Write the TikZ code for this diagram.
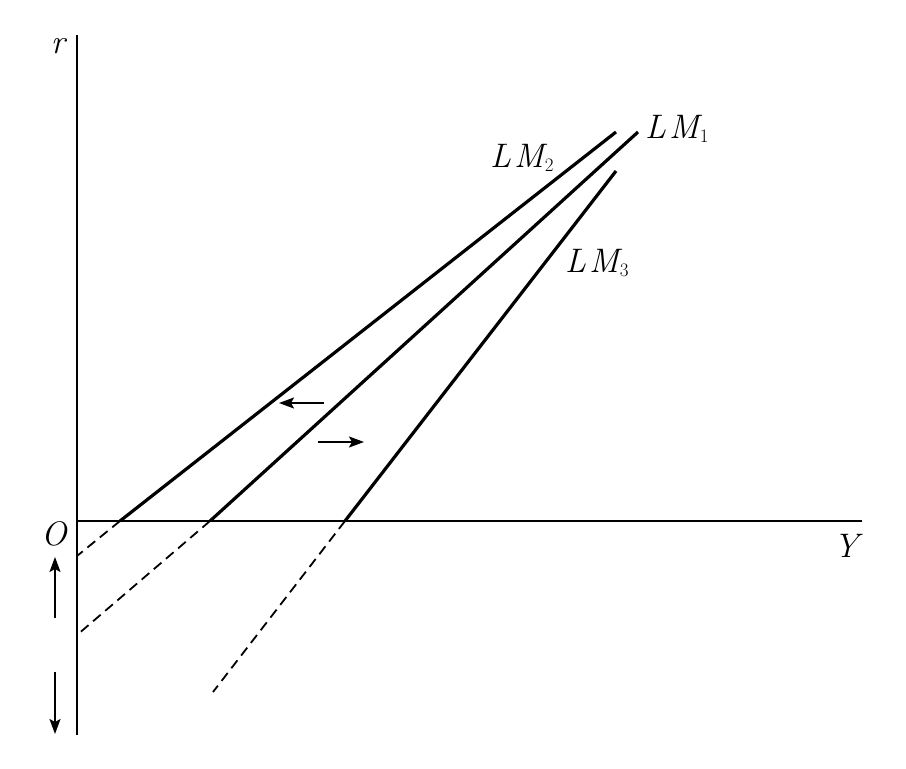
\documentclass[tikz,border=0pt]{standalone}
\usetikzlibrary{arrows.meta}
\newcommand{\lmsub}[1]{\kern1pt\raisebox{-4.5pt}{\fontsize{19}{19}\selectfont\upshape #1}}
\begin{document}
\begin{tikzpicture}[x=1pt,y=-1pt,
  axis/.style={line width=2.2pt},
  lmline/.style={line width=3.2pt},
  ext/.style={line width=1.8pt,dash pattern=on 10pt off 6pt},
  movearrow/.style={line width=1.9pt,-{Stealth[length=15pt,width=11pt,inset=3pt]}},
  lbl/.style={inner sep=0pt,font=\fontsize{34}{38}\selectfont\itshape}]
\useasboundingbox (0,0) rectangle (906,769);
% axes
\coordinate (otop) at (77,35);
\coordinate (obot) at (77,735);
\coordinate (o) at (77,521);
\coordinate (xend) at (862,521);
\draw[axis] (otop) -- (obot);
\draw[axis] (o) -- (xend);
% curve points
\coordinate (a2) at (120,521); \coordinate (t2) at (616,132); \coordinate (d2) at (77,556);
\coordinate (a1) at (210,521); \coordinate (t1) at (638,132); \coordinate (d1) at (77,635);
\coordinate (a3) at (345,521); \coordinate (t3) at (616,171); \coordinate (d3) at (213,692);
\draw[lmline] (a2) -- (t2);
\draw[lmline] (a1) -- (t1);
\draw[lmline] (a3) -- (t3);
\draw[ext] (a2) -- (d2);
\draw[ext] (a1) -- (d1);
\draw[ext] (a3) -- (d3);
% shift arrows
\coordinate (l0) at (324,403); \coordinate (l1) at (279,403);
\coordinate (r0) at (318,442); \coordinate (r1) at (364,442);
\draw[movearrow] (l0) -- (l1);
\draw[movearrow] (r0) -- (r1);
\coordinate (u0) at (55,618); \coordinate (u1) at (55,557);
\coordinate (v0) at (55,672); \coordinate (v1) at (55,734);
\draw[movearrow] (u0) -- (u1);
\draw[movearrow] (v0) -- (v1);
% labels
\node[lbl] (rl) at (58,46) {r};
\node[lbl] (ol) at (54,534) {O};
\node[lbl] (yl) at (846,546) {Y};
\node[lbl,anchor=base west] (lm1) at (645,138) {L\kern3pt M\lmsub{1}};
\node[lbl,anchor=base west] (lm2) at (490,167) {L\kern3pt M\lmsub{2}};
\node[lbl,anchor=base west] (lm3) at (565,272) {L\kern3pt M\lmsub{3}};
\end{tikzpicture}
\end{document}
